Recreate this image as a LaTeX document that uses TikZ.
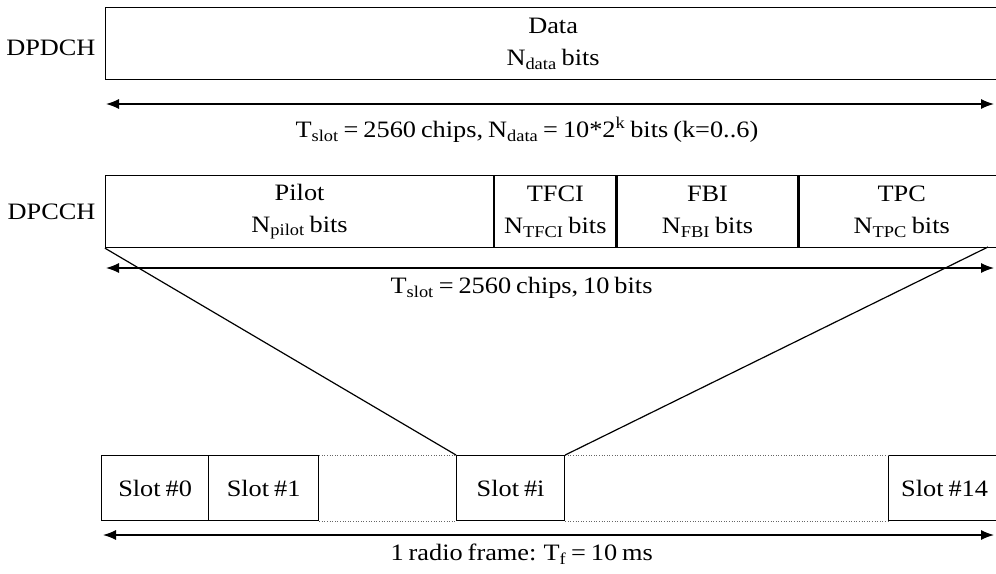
\documentclass[tikz,border=0pt]{standalone}
\usepackage{fontspec}
\setmainfont[FakeStretch=1.12, WordSpace=0.75]{Liberation Serif}
\usetikzlibrary{positioning,arrows.meta}

\begin{document}
\begin{tikzpicture}[
  x=1pt, y=-1pt,
  field/.style={draw, line width=1.2pt, minimum height=72pt, inner sep=0pt, align=center, anchor=north west, font=\fontsize{23.5}{32}\selectfont},
  slotbox/.style={draw, line width=1.2pt, minimum height=65pt, inner sep=0pt, anchor=north west, font=\fontsize{23.5}{28}\selectfont},
  lbl/.style={font=\fontsize{23.5}{28}\selectfont},
  span/.style={{Latex[length=13pt,width=10pt]}-{Latex[length=13pt,width=10pt]}, line width=1.3pt},
  gap/.style={dotted, line width=0.6pt, black!60}
]
\useasboundingbox (0,0) rectangle (996,573);

% DPDCH
\node[field, minimum width=895pt] (data) at (105,7) {Data\\N\textsubscript{data} bits};
\node[lbl, left=6pt of data, yshift=-4pt] (dpdch) {DPDCH};
\coordinate (s1l) at (106,104);
\coordinate (s1r) at (994,104);
\draw[span] (s1l) -- node[lbl, below=9pt, pos=0.474] {T\textsubscript{slot} = 2560 chips, N\textsubscript{data} = 10*2\textsuperscript{k} bits (k=0..6)} (s1r);

% DPCCH
\node[field, minimum width=388pt] (pilot) at (105,175) {Pilot\\N\textsubscript{pilot} bits};
\node[field, minimum width=121pt, right=0pt of pilot.east, anchor=west] (tfci) {TFCI\\N\textsubscript{TFCI} bits};
\node[field, minimum width=181pt, right=0pt of tfci.east, anchor=west] (fbi) {FBI\\N\textsubscript{FBI} bits};
\node[field, minimum width=205pt, right=0pt of fbi.east, anchor=west] (tpc) {TPC\\N\textsubscript{TPC} bits};
\node[lbl, left=6pt of pilot] (dpcch) {DPCCH};
\coordinate (s2l) at (106,268);
\coordinate (s2r) at (994,268);
\draw[span] (s2l) -- node[lbl, below=5pt, pos=0.468] {T\textsubscript{slot} = 2560 chips, 10 bits} (s2r);

% radio frame
\node[slotbox, minimum width=107pt] (slot0) at (101,455) {Slot \#0};
\node[slotbox, minimum width=110pt] (slot1) at (208,455) {Slot \#1};
\node[slotbox, minimum width=108pt] (sloti) at (456,455) {Slot \#i};
\node[slotbox, minimum width=112pt] (slot14) at (888,455) {Slot \#14};
\draw[gap] (slot1.north east) -- (sloti.north west);
\draw[gap] (slot1.south east) -- (sloti.south west);
\draw[gap] (sloti.north east) -- (slot14.north west);
\draw[gap] (sloti.south east) -- (slot14.south west);

\coordinate (tpcend) at (988,247);
\draw[line width=1.2pt] (pilot.south west) -- (sloti.north west);
\draw[line width=1.2pt] (tpcend) -- (sloti.north east);

\coordinate (s3l) at (103,535);
\coordinate (s3r) at (994,535);
\draw[span] (s3l) -- node[lbl, below=5pt, pos=0.47] {1 radio frame: T\textsubscript{f} = 10 ms} (s3r);
\end{tikzpicture}
\end{document}
